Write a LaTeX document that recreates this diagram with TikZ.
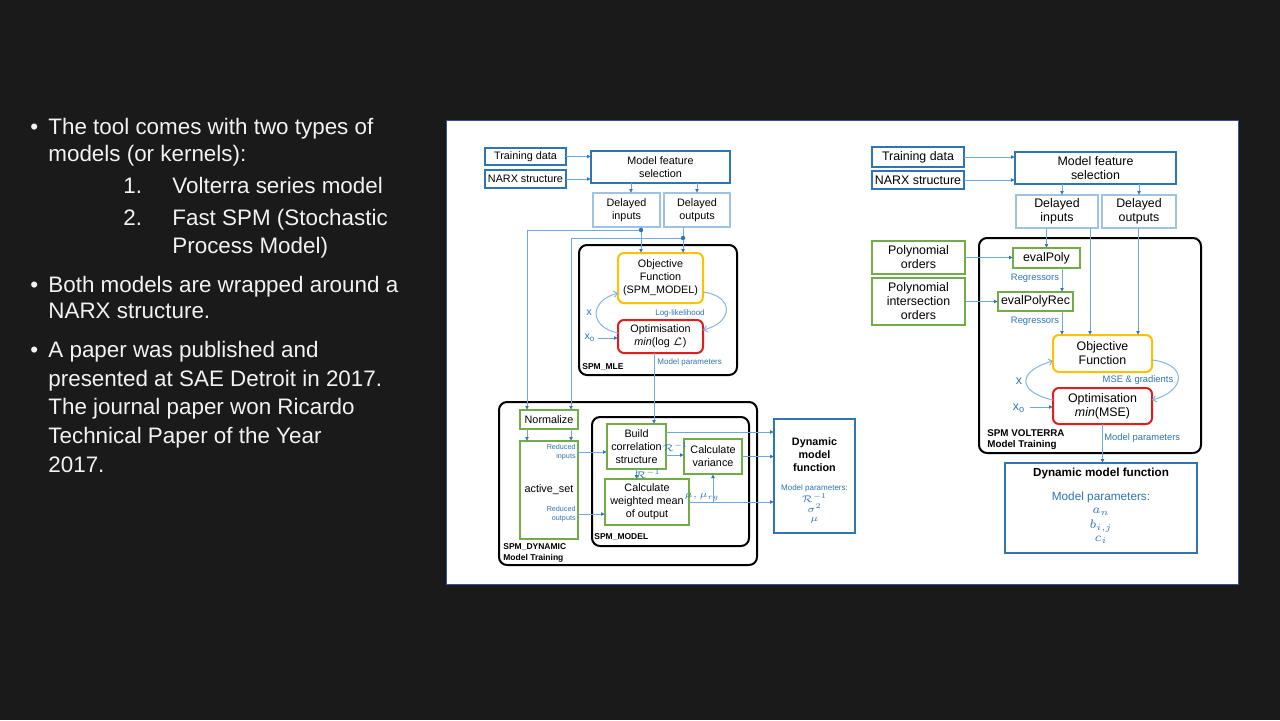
\RequirePackage{fix-cm}
\documentclass[tikz,border=0pt]{standalone}
\usepackage{fontspec}
\setmainfont{Liberation Sans}
\usetikzlibrary{arrows.meta,calc}

\definecolor{slidebg}{RGB}{26,26,26}
\definecolor{slidetext}{RGB}{242,242,242}
\definecolor{navy}{RGB}{46,117,182}
\definecolor{lineblue}{RGB}{112,168,220}
\definecolor{paleblue}{RGB}{157,195,230}
\definecolor{leaf}{RGB}{112,173,71}
\definecolor{amber}{RGB}{255,192,0}
\definecolor{alarm}{RGB}{224,30,30}
\definecolor{txtblue}{RGB}{46,117,182}
\definecolor{paneledge}{RGB}{47,85,151}

% font sizes used in the flow charts
\newcommand{\fntA}{\fontsize{5.4}{6.5}\selectfont}
\newcommand{\fntB}{\fontsize{6.2}{7}\selectfont}
\newcommand{\fntS}{\fontsize{4}{4.6}\selectfont}
\newcommand{\fntT}{\fontsize{3.6}{4.5}\selectfont}
\newcommand{\fntR}{\fontsize{4.7}{5.4}\selectfont}
\newcommand{\fntM}{\fontsize{4.8}{5.4}\selectfont}

% matching math sizes for the small labels
\DeclareMathSizes{3.6}{3.6}{2.7}{2.2}
\DeclareMathSizes{4}{4}{3}{2.4}
\DeclareMathSizes{4.7}{4.7}{3.5}{2.8}
\DeclareMathSizes{4.8}{4.8}{3.7}{3}
\DeclareMathSizes{5.4}{5.4}{4}{3.2}
\DeclareMathSizes{6.2}{6.2}{4.6}{3.6}

\begin{document}
\begin{tikzpicture}[x=0.5pt,y=-0.5pt,
  base/.style={inner sep=0pt, outer sep=0pt, align=center, text=black},
  darkbox/.style={base, draw=navy, line width=1pt, fill=white},
  lightbox/.style={base, draw=paleblue, line width=1pt, fill=white},
  greenbox/.style={base, draw=leaf, line width=1pt, fill=white},
  objbox/.style={base, draw=amber, line width=1pt, rounded corners=3pt, fill=white},
  optbox/.style={base, draw=alarm, line width=1pt, rounded corners=3pt, fill=white},
  frame/.style={base, draw=black, line width=1pt, rounded corners=4pt},
  arr/.style={draw=lineblue, line width=0.5pt, -{Latex[length=2pt,width=2pt,color=navy]}},
  loopline/.style={draw=lineblue!85, line width=0.5pt, -{Straight Barb[length=1.8pt,width=3.2pt]}},
  lbl/.style={inner sep=0pt, text=txtblue},
  ttl/.style={inner sep=0pt, text=black, align=left, font=\bfseries},
  bodytext/.style={anchor=base west, inner sep=0pt, text=slidetext, font=\fontsize{11.2}{13}\selectfont}
]
\useasboundingbox (0,0) rectangle (1280,720);
\fill[slidebg] (0,0) rectangle (1280,720);

% ---------------- bullet text ----------------
\node[bodytext] (b1) at (30,134) {•};
\node[bodytext] (t1) at (48,134) {The tool comes with two types of};
\node[bodytext] (t2) at (48,161) {models (or kernels):};
\node[bodytext] (n1) at (123,193) {1.};
\node[bodytext] (t3) at (172,193) {Volterra series model};
\node[bodytext] (n2) at (123,225) {2.};
\node[bodytext] (t4) at (172,225) {Fast SPM (Stochastic};
\node[bodytext] (t5) at (172,253) {Process Model)};
\node[bodytext] (b2) at (30,292) {•};
\node[bodytext] (t6) at (48,292) {Both models are wrapped around a};
\node[bodytext] (t7) at (48,318) {NARX structure.};
\node[bodytext] (b3) at (30,357) {•};
\node[bodytext] (t8) at (48,357) {A paper was published and};
\node[bodytext] (t9) at (48,386) {presented at SAE Detroit in 2017.};
\node[bodytext] (t10) at (48,414) {The journal paper won Ricardo};
\node[bodytext] (t11) at (48,443) {Technical Paper of the Year};
\node[bodytext] (t12) at (48,472) {2017.};

% ---------------- white panel ----------------
\fill[white] (446,120) rectangle (1238,584);
\draw[paneledge, line width=0.4pt] (446,120) rectangle (1238,584);

% ================= SPM flow chart =================
% frames
\node[frame, minimum width=79pt, minimum height=65pt] (L-MLE) at (658,310) {};
\node[frame, minimum width=129pt, minimum height=81.5pt] (L-Dyn) at (628,483.5) {};
\node[frame, minimum width=78.5pt, minimum height=64.5pt] (L-Mod) at (670.5,481.5) {};

\node[darkbox, font=\fntA, minimum width=40.5pt, minimum height=8.5pt] (L-Train) at (525.5,156.5) {Training data};
\node[darkbox, font=\fntA, minimum width=40.5pt, minimum height=9pt] (L-NARX) at (525.5,179) {NARX structure};
\node[darkbox, font=\fntA, minimum width=69.5pt, minimum height=16pt] (L-MFS) at (660.5,167) {Model feature\\selection};
\node[lightbox, font=\fntA, minimum width=33.5pt, minimum height=17pt] (L-DIn) at (626.5,210) {Delayed\\inputs};
\node[lightbox, font=\fntA, minimum width=33pt, minimum height=17pt] (L-DOut) at (697,210) {Delayed\\outputs};

\node[objbox, font=\fntA, minimum width=42.5pt, minimum height=25pt] (L-Obj) at (660.5,278) {Objective\\Function\\(SPM\_MODEL)};
\node[optbox, font=\fntA, minimum width=42.5pt, minimum height=16.5pt] (L-Opt) at (660.5,336.5) {Optimisation\\\textit{min}($\log\mathcal{L}$)};

\node[greenbox, font=\fntA, minimum width=29pt, minimum height=9.5pt] (L-Norm) at (549,419.5) {Normalize};
\node[greenbox, font=\fntA, minimum width=29pt, minimum height=49pt] (L-Act) at (549,490) {active\_set};
\node[greenbox, font=\fntA, minimum width=29.5pt, minimum height=22.5pt] (L-Build) at (636.5,446.5) {Build\\correlation\\structure};
\node[greenbox, font=\fntA, minimum width=29pt, minimum height=17.5pt] (L-CV) at (713,456.5) {Calculate\\variance};
\node[greenbox, font=\fntA, minimum width=42pt, minimum height=23pt] (L-WM) at (647,502) {Calculate\\weighted mean\\of output};
\node[darkbox, minimum width=40.5pt, minimum height=57pt] (L-DMF) at (814.5,476) {};

% frame titles
\node[ttl, anchor=west, font=\bfseries\fontsize{4.25}{5}\selectfont] (L-MLEt) at (582,367) {SPM\_MLE};
\node[ttl, anchor=west, font=\bfseries\fontsize{4.25}{5}\selectfont] (L-Modt) at (594,537.5) {SPM\_MODEL};
\node[ttl, anchor=west, font=\bfseries\fontsize{4.25}{5.5}\selectfont] (L-Dynt) at (503,552.5) {SPM\_DYNAMIC\\Model Training};

% dynamic model function contents
\node[base, font=\bfseries\fntA] (L-DMFt) at (814.5,455) {Dynamic\\model\\function};
\node[lbl, font=\fntS] (L-DMFp) at (814.5,488) {Model parameters:};
\node[lbl, font=\fntM] (L-DMF1) at (814.5,498) {$\mathcal{R}^{-1}$};
\node[lbl, font=\fntM] (L-DMF2) at (814.5,508.5) {$\sigma^2$};
\node[lbl, font=\fntM] (L-DMF3) at (814.5,520.5) {$\mu$};

% inputs to feature selection
\draw[arr] (L-Train.east) -- (L-Train.east -| L-MFS.west);
\draw[arr] (L-NARX.east) -- (L-NARX.east -| L-MFS.west);
\coordinate (L-fsA) at ($(L-DIn.north)+(4.5,0)$);
\draw[arr] (L-fsA |- L-MFS.south) -- (L-fsA);
\draw[arr] (L-DOut.north |- L-MFS.south) -- (L-DOut.north);

% delayed signals into the likelihood and the normaliser
\coordinate (L-inTap) at ($(L-DIn.south)+(14.5,0)$);
\coordinate (L-outTap) at ($(L-DOut.south)+(-14,0)$);
\draw[arr] (L-inTap) -- (L-inTap |- L-Obj.north);
\draw[arr] (L-outTap) -- (L-outTap |- L-Obj.north);
\coordinate (L-inJoin) at ($(L-inTap)+(0,3)$);
\coordinate (L-outJoin) at ($(L-outTap)+(0,11)$);
\coordinate (L-normA) at ($(L-Norm.north)+(-22,0)$);
\coordinate (L-normB) at ($(L-Norm.north)+(22,0)$);
\draw[arr] (L-inJoin) -| (L-normA);
\draw[arr] (L-outJoin) -| (L-normB);
\fill[navy] (L-inJoin) circle (1.1pt);
\fill[navy] (L-outJoin) circle (1.1pt);
\draw[arr] (L-normA |- L-Norm.south) -- (L-normA |- L-Act.north);
\draw[arr] (L-normB |- L-Norm.south) -- (L-normB |- L-Act.north);

% optimisation loop
\draw[loopline] ($(L-Opt.west)+(0,-3.5)$) .. controls +(-29,-6) and +(-29,8) .. ($(L-Obj.west)+(0,15)$);
\draw[loopline] ($(L-Obj.east)+(0,14)$) .. controls +(31,4) and +(31,-8) .. ($(L-Opt.east)+(0,-6.5)$);
\node[lbl, font=\fntA] (L-x) at (589,313) {x};
\node[lbl, font=\fntA] (L-xo) at (590,338) {x\textsubscript{o}};
\draw[arr] (L-xo.east) ++(2,0) coordinate (L-xoS) -- (L-xoS -| L-Opt.west);
\node[lbl, font=\fntS] (L-ll) at (680,313) {Log-likelihood};

% model parameters into the correlation structure
\coordinate (L-mp) at ($(L-Opt.south)+(-6.5,0)$);
\draw[arr] (L-mp) -- (L-mp |- L-Build.north);
\node[lbl, font=\fntS, anchor=west] (L-mpt) at (657,362) {Model parameters};

% active set to the model
\coordinate (L-ri) at ($(L-Build.west)+(0,5.5)$);
\draw[arr] (L-ri -| L-Act.east) -- (L-ri);
\coordinate (L-ro) at ($(L-WM.west)+(0,12)$);
\draw[arr] (L-ro -| L-Act.east) -- (L-ro);
\node[lbl, font=\fntT, align=right, anchor=east] (L-rit) at (576,452.5) {Reduced\\inputs};
\node[lbl, font=\fntT, align=right, anchor=east] (L-rot) at (576,514.5) {Reduced\\outputs};

% inside the model
\coordinate (L-bv) at ($(L-CV.west)+(0,-1.5)$);
\draw[arr] (L-bv -| L-Build.east) -- (L-bv);
\node[lbl, font=\fntM] (L-r1) at (675.5,447) {$\mathcal{R}^{-1}$};
\draw[arr] (L-Build.south) -- (L-Build.south |- L-WM.north);
\node[lbl, font=\fntM] (L-r2) at (648,474) {$\mathcal{R}^{-1}$};
\draw[arr] (L-WM.east) -- (L-WM.east -| L-DMF.west);
\draw[arr] (L-WM.east -| L-CV.south) -- (L-CV.south);
\node[lbl, font=\fntM] (L-mu) at (702,497) {$\mu, \mu_{rg}$};
\coordinate (L-bt) at ($(L-Build.east)+(0,-14.5)$);
\draw[arr] (L-bt) -- (L-bt -| L-DMF.west);
\draw[arr] (L-CV.east) -- (L-CV.east -| L-DMF.west);

% ================= Volterra flow chart =================
\node[frame, minimum width=111pt, minimum height=107.5pt] (R-Vol) at (1090,345.5) {};

\node[darkbox, font=\fntB, minimum width=46pt, minimum height=10pt] (R-Train) at (918,157) {Training data};
\node[darkbox, font=\fntB, minimum width=46pt, minimum height=9pt] (R-NARX) at (918,180) {NARX structure};
\node[darkbox, font=\fntB, minimum width=80.5pt, minimum height=16pt] (R-MFS) at (1095.5,168) {Model feature\\selection};
\node[lightbox, font=\fntB, minimum width=41pt, minimum height=16.5pt] (R-DIn) at (1057,211.5) {Delayed\\inputs};
\node[lightbox, font=\fntB, minimum width=37pt, minimum height=16.5pt] (R-DOut) at (1139,211.5) {Delayed\\outputs};

\node[greenbox, font=\fntB, minimum width=46.5pt, minimum height=16.5pt] (R-PO) at (918.5,257.5) {Polynomial\\orders};
\node[greenbox, font=\fntB, minimum width=46.5pt, minimum height=23.5pt] (R-PI) at (918.5,301.5) {Polynomial\\intersection\\orders};
\node[greenbox, font=\fntB, minimum width=33.5pt, minimum height=10pt] (R-EP) at (1046.5,258) {evalPoly};
\node[greenbox, font=\fntB, minimum width=37.5pt, minimum height=9.5pt] (R-EPR) at (1035.5,301.5) {evalPolyRec};
\node[objbox, font=\fntB, minimum width=49.5pt, minimum height=18.5pt] (R-Obj) at (1102.5,353.5) {Objective\\Function};
\node[optbox, font=\fntB, minimum width=49.5pt, minimum height=18pt] (R-Opt) at (1102.5,406) {Optimisation\\\textit{min}(MSE)};
\node[darkbox, minimum width=96pt, minimum height=45pt] (R-DMF) at (1101,508) {};

\node[ttl, anchor=west, font=\bfseries\fontsize{4.9}{5.6}\selectfont] (R-Volt) at (987,439.5) {SPM VOLTERRA\\Model Training};

\node[base, font=\bfseries\fontsize{5.85}{7}\selectfont] (R-DMFt) at (1101,473) {Dynamic model function};
\node[lbl, font=\fontsize{5.9}{7}\selectfont] (R-DMFp) at (1101,497) {Model parameters:};
\node[lbl, font=\fntB] (R-DMF1) at (1101,512) {$a_n$};
\node[lbl, font=\fntB] (R-DMF2) at (1101,526) {$b_{i,j}$};
\node[lbl, font=\fntB] (R-DMF3) at (1101,540) {$c_i$};

% inputs to feature selection
\draw[arr] (R-Train.east) -- (R-Train.east -| R-MFS.west);
\draw[arr] (R-NARX.east) -- (R-NARX.east -| R-MFS.west);
\coordinate (R-fsA) at ($(R-DIn.north)+(5,0)$);
\draw[arr] (R-fsA |- R-MFS.south) -- (R-fsA);
\draw[arr] (R-DOut.north |- R-MFS.south) -- (R-DOut.north);

% delayed signals
\draw[arr] (R-EP.north |- R-DIn.south) -- (R-EP.north);
\coordinate (R-inTap) at ($(R-DIn.south)+(33,0)$);
\draw[arr] (R-inTap) -- (R-inTap |- R-Obj.north);
\coordinate (R-outTap) at ($(R-DOut.south)+(-1,0)$);
\draw[arr] (R-outTap) -- (R-outTap |- R-Obj.north);

% polynomial regressors
\draw[arr] (R-PO.east) -- (R-PO.east -| R-EP.west);
\draw[arr] (R-PI.east) -- (R-PI.east -| R-EPR.west);
\coordinate (R-rg) at ($(R-EP.south)+(15.5,0)$);
\draw[arr] (R-rg) -- (R-rg |- R-EPR.north);
\draw[arr] (R-rg |- R-EPR.south) -- (R-rg |- R-Obj.north);
\node[lbl, font=\fntR] (R-rg1) at (1035,278) {Regressors};
\node[lbl, font=\fntR] (R-rg2) at (1035,321) {Regressors};

% optimisation loop
\draw[loopline] ($(R-Opt.west)+(0,-6)$) .. controls +(-36,-8) and +(-36,10) .. ($(R-Obj.west)+(0,7.5)$);
\draw[loopline] ($(R-Obj.east)+(0,6.5)$) .. controls +(35,4) and +(35,-10) .. ($(R-Opt.east)+(0,-6)$);
\node[lbl, font=\fntB] (R-x) at (1019,381) {x};
\node[lbl, font=\fntB] (R-xo) at (1019,408) {x\textsubscript{o}};
\draw[arr] (R-xo.east) ++(4,-1) coordinate (R-xoS) -- (R-xoS -| R-Opt.west);
\node[lbl, font=\fntR] (R-mse) at (1138,380) {MSE \& gradients};

% model parameters
\draw[arr] (R-Opt.south) -- (R-Opt.south |- R-DMF.north);
\node[lbl, font=\fntR, anchor=west] (R-mpt) at (1104,438) {Model parameters};
\end{tikzpicture}
\end{document}
